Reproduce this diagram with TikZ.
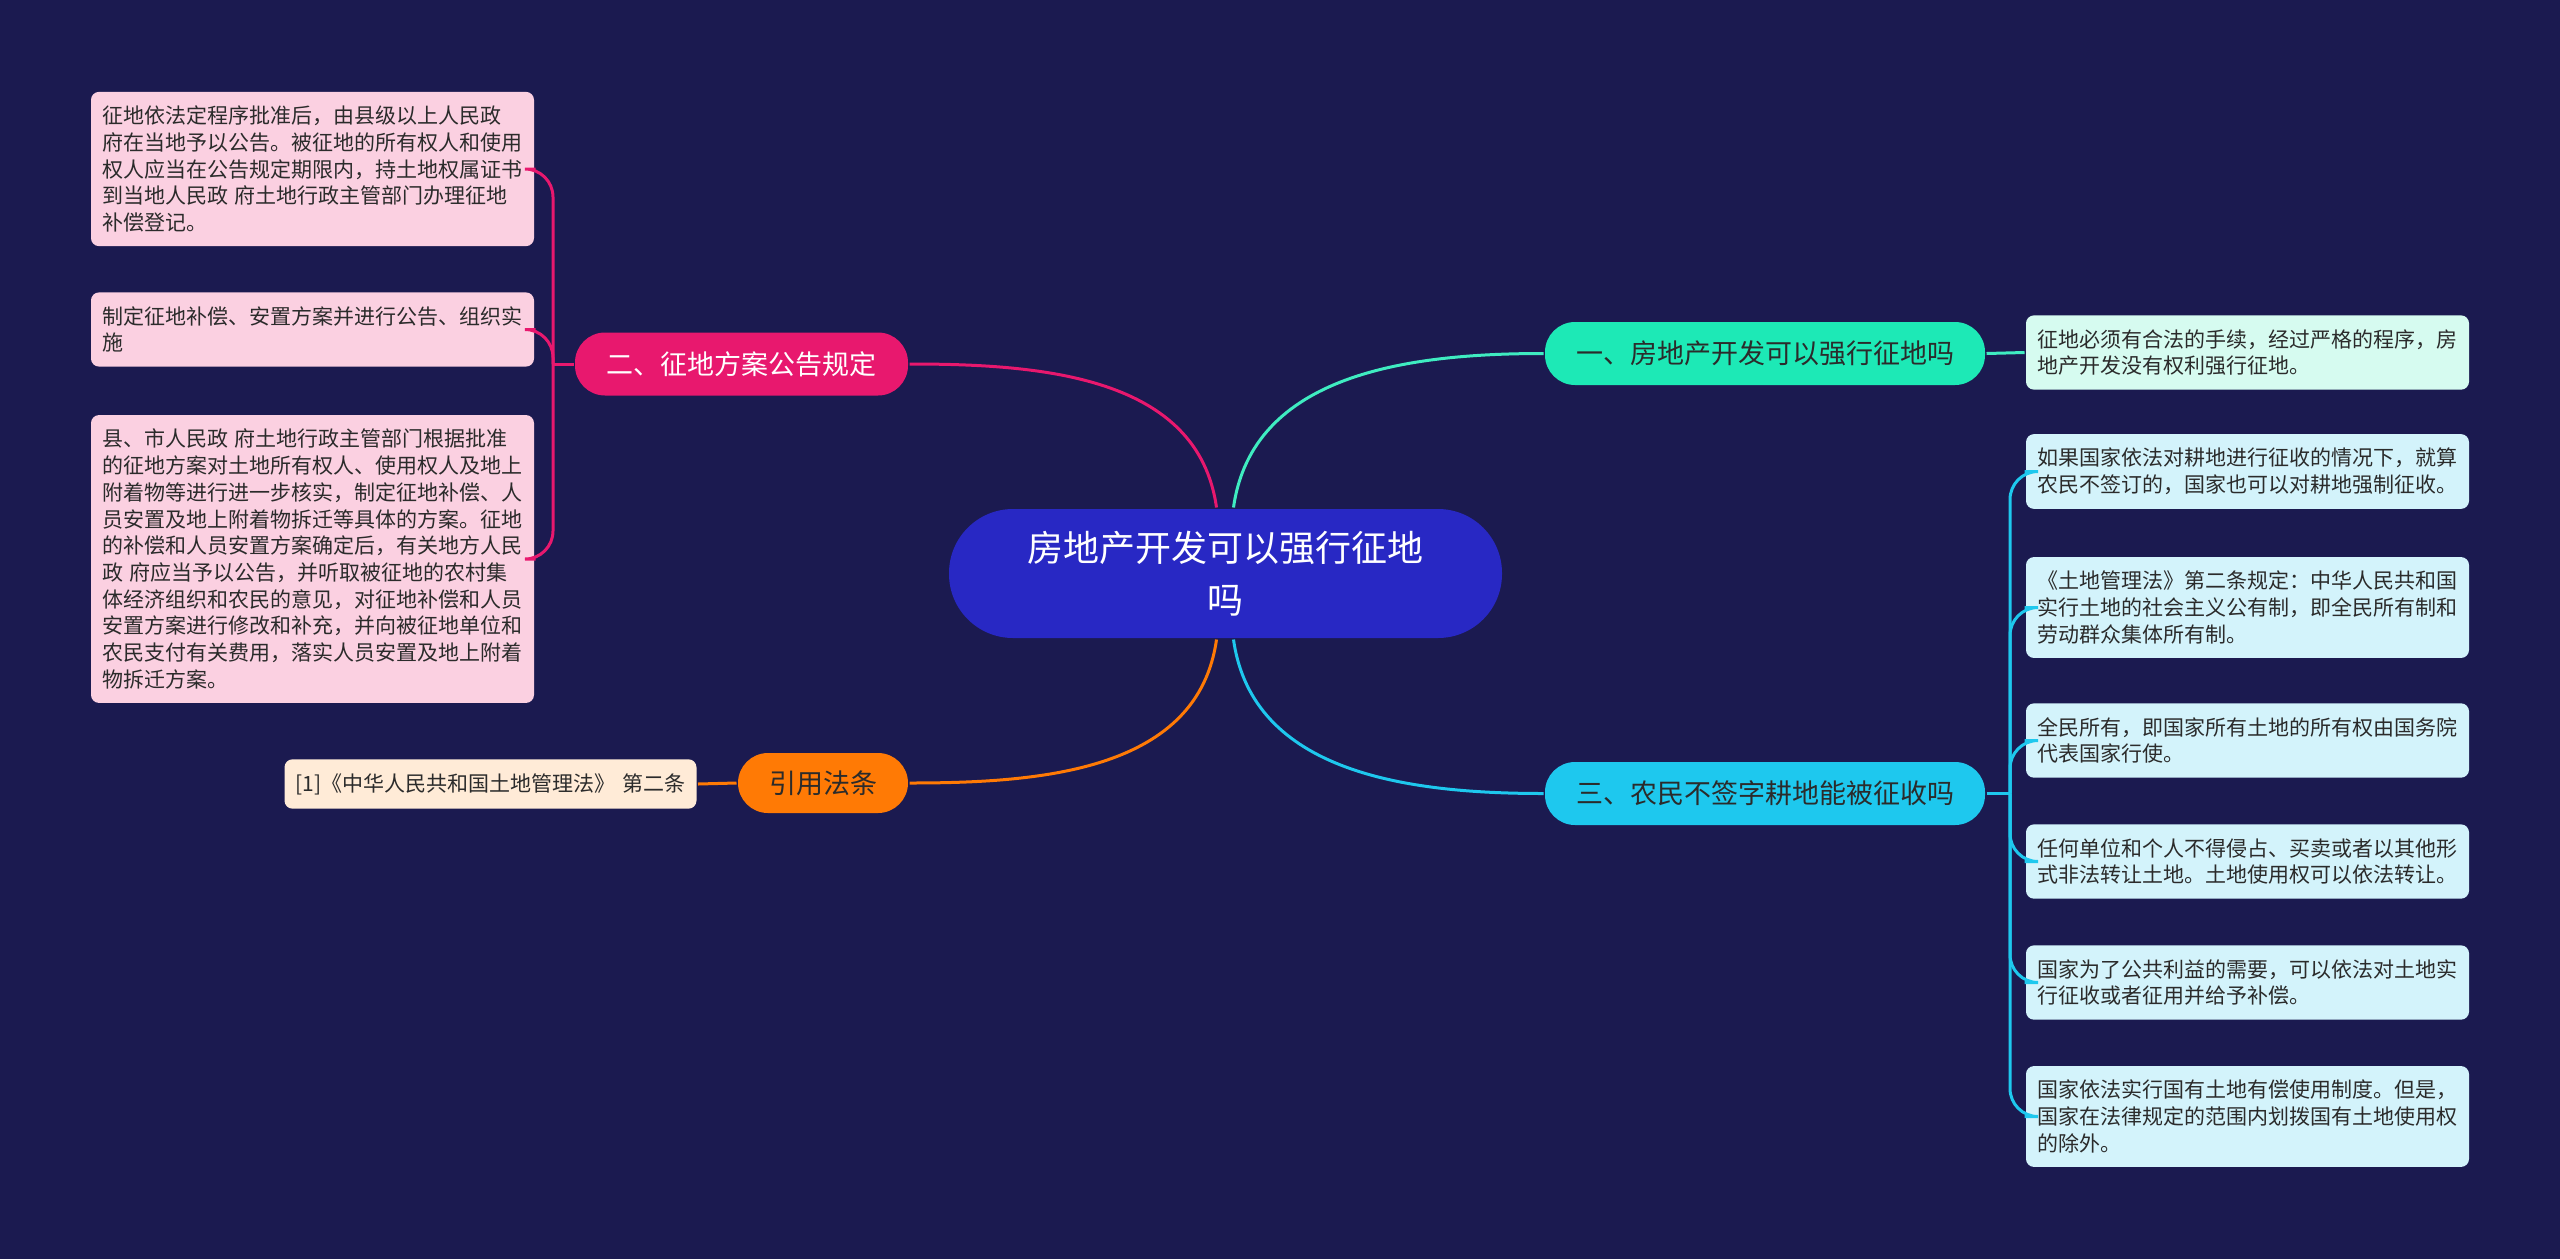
\documentclass[tikz,border=0pt]{standalone}
\usepackage{fontspec}
\setmainfont{Noto Sans CJK SC}

\definecolor{bgnavy}{HTML}{1B1A50}
\definecolor{rootblue}{HTML}{2828C4}
\definecolor{mintmain}{HTML}{1DE9B6}
\definecolor{mintleaf}{HTML}{D6FBF0}
\definecolor{cyanmain}{HTML}{1EC8EE}
\definecolor{cyanleaf}{HTML}{D3F3FB}
\definecolor{pinkmain}{HTML}{E8186E}
\definecolor{pinkleaf}{HTML}{FBD0E1}
\definecolor{orangemain}{HTML}{FF7A05}
\definecolor{orangeleaf}{HTML}{FFEBD7}
\definecolor{inkdark}{HTML}{2B2B2B}

\tikzset{every picture/.style={line width=1.5pt}}
\tikzset{
  topicbox/.style={rounded corners=15pt, minimum height=31.5pt, inner sep=0pt,
    font=\fontsize{13.5pt}{16pt}\selectfont},
  leafbox/.style={rounded corners=4pt, text width=210.5pt, inner xsep=5.5pt,
    inner ysep=7pt, align=left, text=inkdark,
    font=\fontsize{10.5pt}{13.35pt}\selectfont},
  link/.style={line width=1.5pt, rounded corners=14pt},
}

\begin{document}
\begin{tikzpicture}[x=0.5pt, y=-0.5pt]
\fill[bgnavy] (0,0) rectangle (2560,1259);
\useasboundingbox (0,0) rectangle (2560,1259);

% root and main topics
\node[fill=rootblue, text=white, rounded corners=32pt, minimum width=276.5pt,
      minimum height=64.5pt, align=center, font=\fontsize{18pt}{26pt}\selectfont]
      (root) at (1225.5,573.5) {房地产开发可以强行征地\\吗};

\node[topicbox, fill=mintmain, text=inkdark, minimum width=220pt]
      (topicA) at (1765,353.5) {一、房地产开发可以强行征地吗};
\node[topicbox, fill=pinkmain, text=white, minimum width=166.5pt]
      (topicB) at (741.5,364) {二、征地方案公告规定};
\node[topicbox, fill=cyanmain, text=inkdark, minimum width=220pt]
      (topicC) at (1765,793.5) {三、农民不签字耕地能被征收吗};
\node[topicbox, fill=orangemain, text=inkdark, minimum width=85pt, minimum height=30pt]
      (topicD) at (823,783) {引用法条};

% leaves, left side
\node[leafbox, fill=pinkleaf] (leafB1) at (312.5,169)
  {征地依法定程序批准后，由县级以上人民政\\府在当地予以公告。被征地的所有权人和使用\\权人应当在公告规定期限内，持土地权属证书\\到当地人民政~府土地行政主管部门办理征地\\补偿登记。};
\node[leafbox, fill=pinkleaf] (leafB2) at (312.5,329.5)
  {制定征地补偿、安置方案并进行公告、组织实\\施};
\node[leafbox, fill=pinkleaf] (leafB3) at (312.5,559)
  {县、市人民政~府土地行政主管部门根据批准\\的征地方案对土地所有权人、使用权人及地上\\附着物等进行进一步核实，制定征地补偿、人\\员安置及地上附着物拆迁等具体的方案。征地\\的补偿和人员安置方案确定后，有关地方人民\\政~府应当予以公告，并听取被征地的农村集\\体经济组织和农民的意见，对征地补偿和人员\\安置方案进行修改和补充，并向被征地单位和\\农民支付有关费用，落实人员安置及地上附着\\物拆迁方案。};
\node[leafbox, fill=orangeleaf, text width=195pt, minimum height=23pt] (leafD1) at (490.5,784)
  {[1]《中华人民共和国土地管理法》~第二条};

% leaves, right side
\node[leafbox, fill=mintleaf] (leafA1) at (2247.5,352.5)
  {征地必须有合法的手续，经过严格的程序，房\\地产开发没有权利强行征地。};
\node[leafbox, fill=cyanleaf] (leafC1) at (2247.5,471.5)
  {如果国家依法对耕地进行征收的情况下，就算\\农民不签订的，国家也可以对耕地强制征收。};
\node[leafbox, fill=cyanleaf] (leafC2) at (2247.5,607.5)
  {《土地管理法》第二条规定：中华人民共和国\\实行土地的社会主义公有制，即全民所有制和\\劳动群众集体所有制。};
\node[leafbox, fill=cyanleaf] (leafC3) at (2247.5,740.5)
  {全民所有，即国家所有土地的所有权由国务院\\代表国家行使。};
\node[leafbox, fill=cyanleaf] (leafC4) at (2247.5,861.5)
  {任何单位和个人不得侵占、买卖或者以其他形\\式非法转让土地。土地使用权可以依法转让。};
\node[leafbox, fill=cyanleaf] (leafC5) at (2247.5,982.5)
  {国家为了公共利益的需要，可以依法对土地实\\行征收或者征用并给予补偿。};
\node[leafbox, fill=cyanleaf] (leafC6) at (2247.5,1116.5)
  {国家依法实行国有土地有偿使用制度。但是，\\国家在法律规定的范围内划拨国有土地使用权\\的除外。};

% connectors from the root
\coordinate (rootNL) at ([xshift=-4.5pt]root.north);
\coordinate (rootNR) at ([xshift=4pt]root.north);
\coordinate (rootSL) at ([xshift=-4.5pt]root.south);
\coordinate (rootSR) at ([xshift=4pt]root.south);
\draw[pinkmain] (rootNL) to[out=98,in=0] (topicB.east);
\draw[mintmain!85!white] (rootNR) to[out=82,in=180] (topicA.west);
\draw[orangemain] (rootSL) to[out=262,in=0] (topicD.east);
\draw[cyanmain] (rootSR) to[out=278,in=180] (topicC.west);

% brackets to the leaves
\coordinate (joinB) at (553,364);
\coordinate (joinC) at (2010,793.5);
\draw[link, pinkmain] (topicB.west) -- (joinB);
\foreach \lf in {leafB1,leafB2,leafB3}
  \draw[link, pinkmain] (joinB) |- (\lf.east);
\draw[link, cyanmain] (topicC.east) -- (joinC);
\foreach \lf in {leafC1,leafC2,leafC3,leafC4,leafC5,leafC6}
  \draw[link, cyanmain] (joinC) |- (\lf.west);
\draw[link, mintmain!85!white] (topicA.east) -- (leafA1.west);
\draw[link, orangemain] (topicD.west) -- (leafD1.east);

\end{tikzpicture}
\end{document}
